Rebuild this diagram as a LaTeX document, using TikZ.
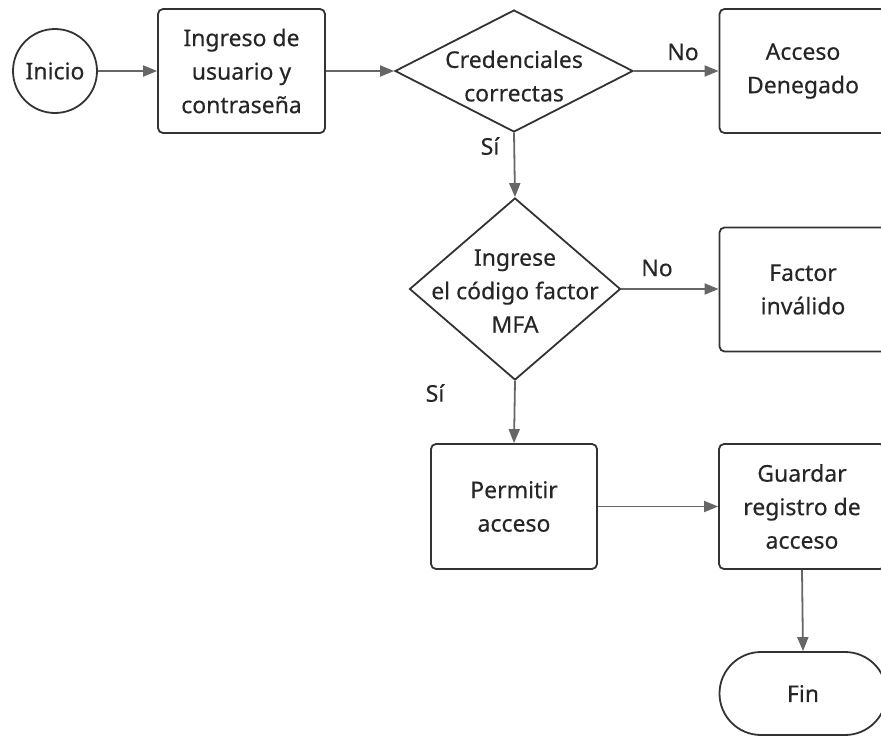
\documentclass[tikz,border=0pt]{standalone}
\usepackage{fontspec}
\setmainfont{Noto Sans}
\newfontfamily\chartfont{Noto Sans}[FakeBold=0.35]
\usetikzlibrary{shapes.geometric,shapes.misc,arrows.meta}
\begin{document}
\begin{tikzpicture}[x=1pt,y=-1pt,
  every node/.style={font=\chartfont\fontsize{23}{33.5}\selectfont, text=black!85},
  outline/.style={draw=black!80, line width=1.8pt},
  procbox/.style={outline, rectangle, rounded corners=5pt, minimum width=167pt, minimum height=124pt, align=center, inner sep=0pt},
  decision/.style={outline, diamond, inner sep=0pt},
  terminal/.style={outline, rounded rectangle, minimum width=167pt, minimum height=83pt, inner sep=0pt},
  flow/.style={draw=black!60, line width=1.8pt, -{Triangle[length=14pt,width=11pt]}},
  branch/.style={font=\chartfont\fontsize{23}{26}\selectfont}
]
\useasboundingbox (0,0) rectangle (881,736);
\clip (0,0) rectangle (881,736);

% start
\node[outline, circle, minimum size=84pt, inner sep=0pt] (inicio) at (55,71) {Inicio};

% credentials entry
\node[procbox] (ingreso) at (241.5,71) {Ingreso de\\usuario y\\contraseña};

% first decision
\node[decision, minimum width=238pt, minimum height=122pt] (cred) at (514,71) {};
\node[align=center] (credt) at ([yshift=-5pt]cred) {Credenciales\\correctas};

% denied
\node[procbox] (denegado) at (803,71) {Acceso\\Denegado};

% second decision
\node[decision, minimum width=211pt, minimum height=182pt] (mfa) at (515,289) {};
\node[align=center] (mfat) at ([yshift=-2pt]mfa) {Ingrese\\el código factor\\MFA};

% invalid factor
\node[procbox] (invalido) at (803,289.5) {Factor\\inválido};

% grant access
\node[procbox, minimum width=166pt, minimum height=125pt] (permitir) at (514,506.5) {Permitir\\acceso};

% log access
\node[procbox, minimum width=166pt, minimum height=125pt] (guardar) at (802,506.5) {Guardar\\registro de\\acceso};

% end
\node[terminal] (fin) at (803,693.5) {Fin};

% connectors
\draw[flow] (inicio) -- (ingreso);
\draw[flow] (ingreso) -- (cred);
\draw[flow] (cred.east) -- (denegado.west);
\node[branch] (no1) at (683,52) {No};
\draw[flow] (cred.south) -- (mfa.north);
\node[branch] (si1) at (490,146) {Sí};
\draw[flow] (mfa.east) -- (invalido.west |- mfa.east);
\node[branch] (no2) at (657,268) {No};
\draw[flow] (mfa.south) -- (permitir.north);
\node[branch] (si2) at (435,393) {Sí};
\draw[flow] (permitir.east) -- (guardar.west);
\draw[flow] (guardar.south) -- (fin.north);
\end{tikzpicture}
\end{document}
